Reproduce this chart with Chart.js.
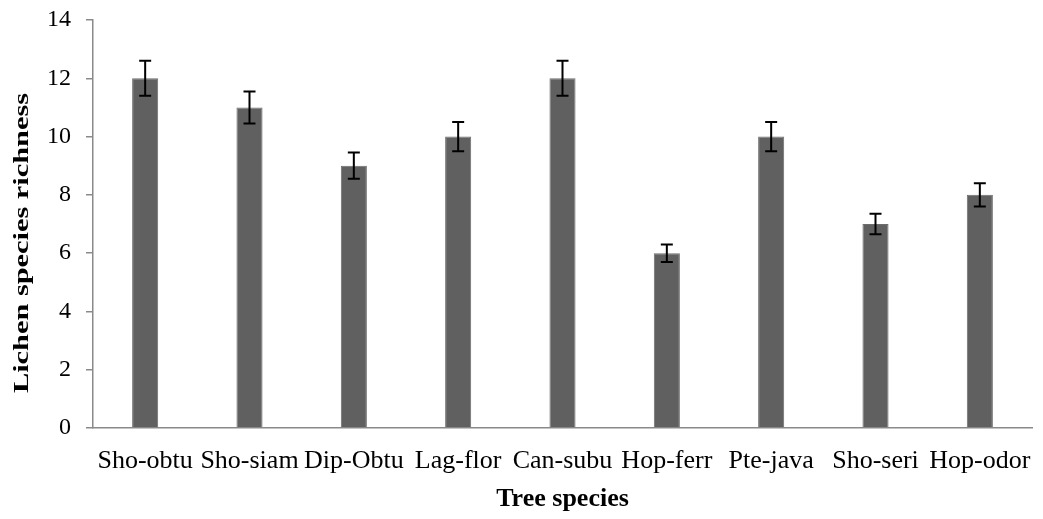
<!DOCTYPE html>
<html>
<head>
<meta charset="utf-8">
<title>Lichen species richness by tree species</title>
<script src="https://cdn.jsdelivr.net/npm/chart.js@4/dist/chart.umd.min.js"></script>
<style>
  html, body { margin: 0; padding: 0; background: #ffffff; }
  #wrap { width: 1043px; height: 519px; }
</style>
</head>
<body>
<div id="wrap"><canvas id="chart" width="1043" height="519"></canvas></div>
<script>
// Tree species (abbreviated) on the x axis
const treeSpecies = ['Sho-obtu', 'Sho-siam', 'Dip-Obtu', 'Lag-flor', 'Can-subu', 'Hop-ferr', 'Pte-java', 'Sho-seri', 'Hop-odor'];
// Lichen species richness per tree species
const richness = [12, 11, 9, 10, 12, 6, 10, 7, 8];
// Error bar half-lengths
const richnessError = [0.6, 0.55, 0.45, 0.5, 0.6, 0.3, 0.5, 0.35, 0.4];
// Y axis range
const yMin = 0, yMax = 14, yStep = 2;
const yTitle = 'Lichen species richness';

const axisGray = '#8a8a8a';
const serif = '"Liberation Serif", "Times New Roman", serif';

// Draws symmetric error bars on top of each bar
const errorBarPlugin = {
  id: 'errorBars',
  afterDatasetsDraw(chart) {
    const meta = chart.getDatasetMeta(0);
    const yScale = chart.scales.y;
    const ctx = chart.ctx;
    ctx.save();
    ctx.strokeStyle = '#000000';
    ctx.lineWidth = 2;
    const cap = 6;
    meta.data.forEach((bar, i) => {
      const v = richness[i], e = richnessError[i];
      const yTop = yScale.getPixelForValue(v + e);
      const yBot = yScale.getPixelForValue(v - e);
      const x = bar.x;
      ctx.beginPath();
      ctx.moveTo(x, yTop); ctx.lineTo(x, yBot);
      ctx.moveTo(x - cap, yTop); ctx.lineTo(x + cap, yTop);
      ctx.moveTo(x - cap, yBot); ctx.lineTo(x + cap, yBot);
      ctx.stroke();
    });
    ctx.restore();
  }
};

// Vertical y-axis title, drawn in a wide (horizontally stretched) bold serif
const yTitlePlugin = {
  id: 'yTitleWide',
  afterDraw(chart) {
    const ctx = chart.ctx;
    const area = chart.chartArea;
    ctx.save();
    ctx.translate(22, (area.top + area.bottom) / 2 + 19);
    ctx.rotate(-Math.PI / 2);
    ctx.scale(1.38, 1);
    ctx.font = 'bold 22px ' + serif;
    ctx.fillStyle = '#000000';
    ctx.textAlign = 'center';
    ctx.textBaseline = 'middle';
    ctx.fillText(yTitle, 0, 0);
    ctx.restore();
  }
};

new Chart(document.getElementById('chart'), {
  type: 'bar',
  data: {
    labels: treeSpecies,
    datasets: [{
      data: richness,
      backgroundColor: '#606060',
      borderColor: '#6c6c6c',
      borderWidth: 1,
      categoryPercentage: 1,
      barPercentage: 0.25
    }]
  },
  options: {
    responsive: false,
    animation: false,
    layout: { padding: { top: 20, right: 11, left: 0, bottom: 0 } },
    plugins: { legend: { display: false }, tooltip: { enabled: false } },
    scales: {
      x: {
        grid: { display: true, drawOnChartArea: false, drawTicks: false },
        border: { display: true, color: axisGray, width: 1.5 },
        ticks: {
          color: '#000000',
          font: { family: serif, size: 26 },
          padding: 18,
          autoSkip: false,
          maxRotation: 0
        },
        title: {
          display: true,
          text: 'Tree species',
          color: '#000000',
          font: { family: serif, size: 26, weight: 'bold' },
          padding: { top: 0, bottom: 4 }
        },
        afterFit(scale) {
          scale.height = 91;
          scale.paddingLeft = 0;
          scale.paddingRight = 0;
        }
      },
      y: {
        min: yMin,
        max: yMax,
        grid: { display: true, drawOnChartArea: false, drawTicks: true, tickLength: 7, color: axisGray, lineWidth: 1.5 },
        border: { display: true, color: axisGray, width: 1.5 },
        ticks: {
          stepSize: yStep,
          color: '#000000',
          font: { family: serif, size: 24 },
          padding: 15
        },
        title: { display: false },
        afterFit(scale) {
          scale.width = 93;
          scale.paddingTop = 0;
          scale.paddingBottom = 0;
        }
      }
    }
  },
  plugins: [errorBarPlugin, yTitlePlugin]
});
</script>
</body>
</html>
